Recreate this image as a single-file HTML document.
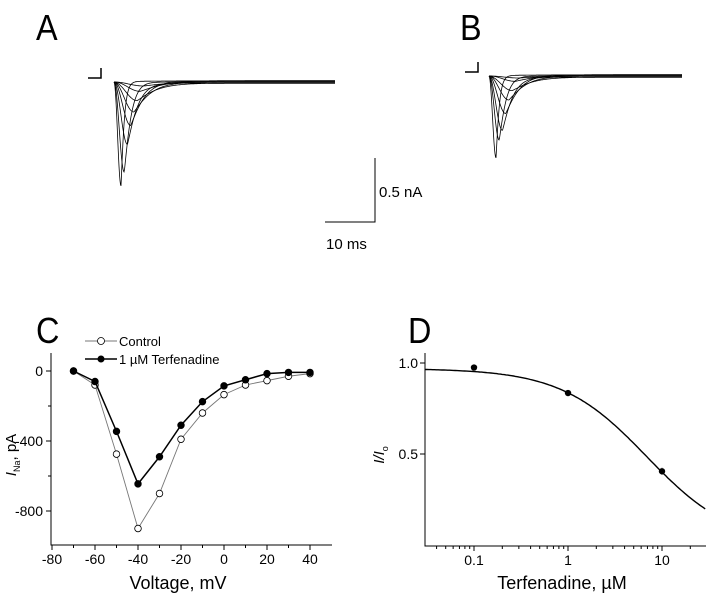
<!DOCTYPE html>
<html><head><meta charset="utf-8">
<style>
body{margin:0;background:#fff;font-family:"Liberation Sans",sans-serif;}
svg text{font-family:"Liberation Sans",sans-serif;}
</style></head>
<body>
<svg id="fig" width="709" height="597" viewBox="0 0 709 597" xmlns="http://www.w3.org/2000/svg">
<text x="36" y="40" font-size="36" transform="translate(36 0) scale(0.9 1) translate(-36 0)">A</text>
<text x="460" y="40" font-size="36" transform="translate(460 0) scale(0.9 1) translate(-460 0)">B</text>
<text x="36" y="343" font-size="36" transform="translate(36 0) scale(0.9 1) translate(-36 0)">C</text>
<text x="408" y="343" font-size="36" transform="translate(408 0) scale(0.9 1) translate(-408 0)">D</text>
<g id="tracesA"></g>
<g id="tracesB"></g>
<g stroke="#000" stroke-width="1" fill="none">
<path d="M375 158 V222 H325"/>
</g>
<text x="379" y="197" font-size="15">0.5 nA</text>
<text x="326" y="249" font-size="15">10 ms</text>
<g id="chartC"></g>
<g id="chartD"></g>
</svg>
<script>
// Panel C data
const voltages=[-70,-60,-50,-40,-30,-20,-10,0,10,20,30,40];
const controlI=[0,-80,-475,-900,-700,-390,-240,-135,-80,-55,-30,-15];
const terfI=[0,-60,-345,-645,-490,-310,-175,-85,-50,-15,-8,-8];
const xTicksC=[-80,-60,-40,-20,0,20,40];
const yTicksC=[0,-400,-800];
// Panel D data
const conc=[0.1,1,10];
const ratio=[0.975,0.835,0.405];
const ratioErr=[0.008,0.01,0.02];
const xTicksD=[0.1,1,10];
const yTicksD=[1.0,0.5];
const hillTop=[0.97], hillIC50=[6.9], hillN=[0.95];
// Traces: peak depth (px) per trace
const peaksA=[104,90,62,44,30,18,10,4];
const peaksB=[82,64,54,38,24,14,6,2];

const NS="http://www.w3.org/2000/svg";
function mk(parent,tag,attrs){const e=document.createElementNS(NS,tag);for(const k in attrs)e.setAttribute(k,attrs[k]);parent.appendChild(e);return e;}

function traces(g,x0,x1,base,peaks,mx0){
  const m=mk(g,'path',{d:`M${mx0} ${base-4} H${mx0+13} V${base-14}`,stroke:'#000','stroke-width':1.5,fill:'none'});
  
  
  peaks.forEach((d,i)=>{
    const tp=x0+7+i*3.2;
    const tau=4+i*5.5;
    let p=`M${x0} ${base}`;
    for(let x=x0;x<=x1;x+=0.5){
      let y;
      if(x<tp){const t=(x-x0)/(tp-x0);y=base+d*Math.pow(Math.sin(t*Math.PI/2),2);}
      else{const s=x-tp;y=base+d*(s<2?1-0.08*s*s/4*0:1)*Math.exp(-Math.pow(s,1.15)/tau);}
      y+= (i%3-1)*1.2*(1-Math.exp(-(x-x0)/30));
      p+=` L${x} ${y.toFixed(1)}`;
    }
    const e=mk(g,'path',{d:p,stroke:'#000','stroke-width':0.8,fill:'none'});
    
    
  });
}
traces(document.getElementById('tracesA'),114,335,82,peaksA,88);
traces(document.getElementById('tracesB'),489,682,76,peaksB,465);

// Chart C
(function(){
  const g=document.getElementById('chartC');
  const L=51,R=332,T=353,B=545;
  const X=v=>52+(v+80)*258/120;
  const Yc=i=>371+(-i)*140/800;
  const ax=mk(g,'path',{d:`M${L} ${T} V${B} H${R}`,stroke:'#000','stroke-width':1,fill:'none'});
  
  xTicksC.forEach(v=>{
    mk(g,'line',{x1:X(v),x2:X(v),y1:B,y2:B+5,stroke:'#000'});
    const t=mk(g,'text',{x:X(v),y:B+19,'font-size':14,'text-anchor':'middle'});t.textContent=v;
    
  });
  for(let v=-70;v<=40;v+=20){mk(g,'line',{x1:X(v),x2:X(v),y1:B,y2:B+3,stroke:'#000'});}
  yTicksC.forEach(v=>{
    mk(g,'line',{x1:L-5,x2:L,y1:Yc(v),y2:Yc(v),stroke:'#000'});
    const t=mk(g,'text',{x:L-8,y:Yc(v)+5,'font-size':14,'text-anchor':'end'});t.textContent=v;
    
  });
  [-200,-600,-1000].forEach(v=>{if(Yc(v)<B)mk(g,'line',{x1:L-3,x2:L,y1:Yc(v),y2:Yc(v),stroke:'#000'});});
  const xl=mk(g,'text',{x:178,y:589,'font-size':18,'text-anchor':'middle'});xl.textContent='Voltage, mV';
  
  const yl=mk(g,'text',{transform:'translate(16,455) rotate(-90)','font-size':15,'text-anchor':'middle'});
  yl.innerHTML='<tspan font-style="italic">I</tspan><tspan font-size="9" dy="4">Na</tspan><tspan dy="-4">, pA</tspan>';
  
  function series(vals,col,w,fillc,name){
    const pl=mk(g,'polyline',{points:voltages.map((v,i)=>X(v)+','+Yc(vals[i])).join(' '),stroke:col,'stroke-width':w,fill:'none'});
    
    voltages.forEach((v,i)=>{const c=mk(g,'circle',{cx:X(v),cy:Yc(vals[i]),r:3.3,fill:fillc,stroke:'#000','stroke-width':0.8});
      });
  }
  series(controlI,'#777',0.9,'#fff','control');
  series(terfI,'#000',1.5,'#000','terfenadine');
  const l1=mk(g,'g',{});
  mk(l1,'line',{x1:85,x2:117,y1:341,y2:341,stroke:'#777','stroke-width':0.9});
  mk(l1,'circle',{cx:101,cy:341,r:3.5,fill:'#fff',stroke:'#000','stroke-width':0.8});
  mk(l1,'text',{x:119,y:346,'font-size':13}).textContent='Control';
  const l2=mk(g,'g',{});
  mk(l2,'line',{x1:85,x2:117,y1:359,y2:359,stroke:'#000','stroke-width':1.5});
  mk(l2,'circle',{cx:101,cy:359,r:3.5,fill:'#000'});
  mk(l2,'text',{x:119,y:364,'font-size':13}).textContent='1 µM Terfenadine';
})();

// Chart D
(function(){
  const g=document.getElementById('chartD');
  const L=425,R=706,T=353,B=546;
  const X=c=>568+Math.log10(c)*94;
  const Y=r=>363+(1-r)*182;
  const ax=mk(g,'path',{d:`M${L} ${T} V${B} H${R}`,stroke:'#000','stroke-width':1,fill:'none'});
  
  for(let dec=-2;dec<=1;dec++){for(let k=1;k<=9;k++){const c=k*Math.pow(10,dec);const x=X(c);
    if(x<L||x>R)continue;mk(g,'line',{x1:x,x2:x,y1:B,y2:B+(k==1?5:3),stroke:'#000'});}}
  xTicksD.forEach(v=>{const t=mk(g,'text',{x:X(v),y:B+19,'font-size':14,'text-anchor':'middle'});t.textContent=v;
    });
  yTicksD.forEach(v=>{mk(g,'line',{x1:L-5,x2:L,y1:Y(v),y2:Y(v),stroke:'#000'});
    const t=mk(g,'text',{x:L-7,y:Y(v)+5,'font-size':14,'text-anchor':'end'});t.textContent=v.toFixed(1);
    });
  const xl=mk(g,'text',{x:562,y:589,'font-size':18,'text-anchor':'middle'});xl.textContent='Terfenadine, µM';
  
  const yl=mk(g,'text',{transform:'translate(384,455) rotate(-90)','font-size':15,'text-anchor':'middle','font-style':'italic'});
  yl.innerHTML='I/I<tspan font-size="9" dy="4" font-style="normal">o</tspan>';
  
  let p='';
  for(let lx=-1.52;lx<=1.47;lx+=0.02){const c=Math.pow(10,lx);const r=hillTop[0]/(1+Math.pow(c/hillIC50[0],hillN[0]));
    p+=(p?' L':'M')+X(c).toFixed(1)+' '+Y(r).toFixed(1);}
  const fit=mk(g,'path',{d:p,stroke:'#000','stroke-width':1.4,fill:'none'});
  
  conc.forEach((c,i)=>{
    const eb=mk(g,'line',{x1:X(c),x2:X(c),y1:Y(ratio[i]+ratioErr[i]),y2:Y(ratio[i]-ratioErr[i]),stroke:'#777'});
    
    const pt=mk(g,'circle',{cx:X(c),cy:Y(ratio[i]),r:3.2,fill:'#000'});
    
  });
})();
</script>
</body></html>
